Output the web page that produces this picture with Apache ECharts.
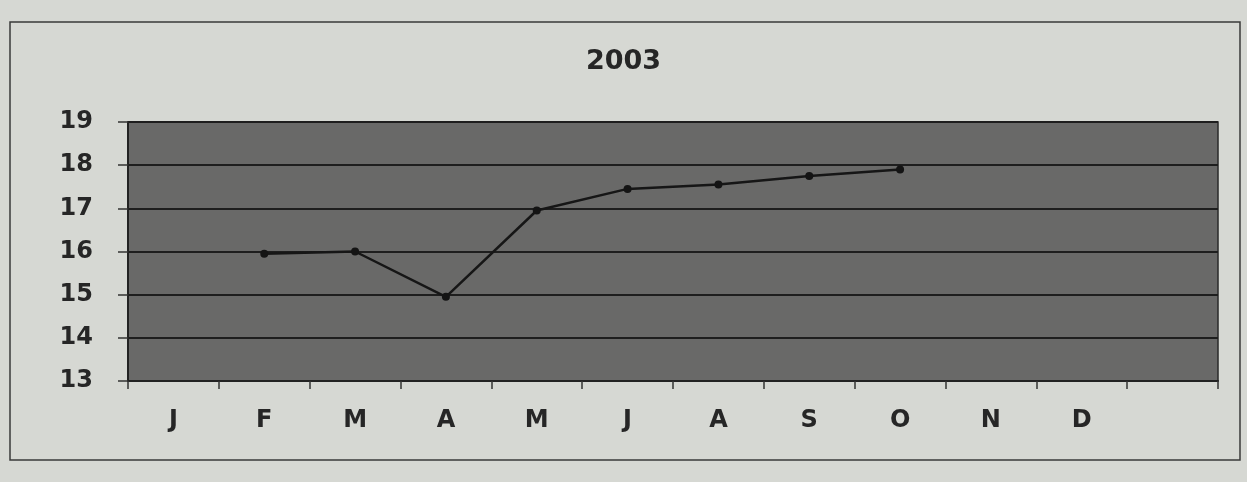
<!DOCTYPE html>
<html>
<head>
<meta charset="utf-8">
<script src="https://cdn.jsdelivr.net/npm/echarts@6/dist/echarts.min.js"></script>
<style>
html,body{margin:0;padding:0;background:#d6d8d3;}
#c{width:1247px;height:482px;}
</style>
</head>
<body>
<div id="c"></div>
<script>
const titleText = '2003';
const months = ['J','F','M','A','M','J','A','S','O','N','D',''];
const values = [null, 15.95, 16.0, 14.95, 16.95, 17.45, 17.55, 17.75, 17.9, null, null, null];
const yTicks = { min: 13, max: 19, interval: 1 };

const FONT = '"DejaVu Sans", Verdana, sans-serif';
const chart = echarts.init(document.getElementById('c'), null, {renderer:'canvas'});
chart.setOption({
  backgroundColor: '#d6d8d3',
  animation: false,
  title: {
    text: titleText, left: 'center', top: 43,
    textStyle: { fontFamily: FONT, fontWeight: 'bold', fontSize: 27, color: '#262626' }
  },
  graphic: [{
    type: 'rect', shape: { x: 10, y: 22, width: 1230, height: 438 },
    style: { fill: 'none', stroke: '#3a3a3a', lineWidth: 1.5 }, z: -1
  }],
  grid: {
    left: 128, right: 29, top: 122, height: 259,
    show: true, backgroundColor: '#696968', borderColor: '#2a2a2a', borderWidth: 1.5
  },
  xAxis: {
    type: 'category', data: months, boundaryGap: true,
    axisLine: { show: true, lineStyle: { color: '#222', width: 2 } },
    axisTick: { show: true, interval: 0, length: 8, lineStyle: { color: '#333', width: 1.5 } },
    axisLabel: { interval: 0, margin: 28, color: '#262626', fontSize: 24, fontWeight: 'bold', fontFamily: FONT },
    splitLine: { show: false }
  },
  yAxis: {
    type: 'value', min: yTicks.min, max: yTicks.max, interval: yTicks.interval,
    axisLine: { show: true, lineStyle: { color: '#222', width: 2 } },
    axisTick: { show: true, length: 10, lineStyle: { color: '#333', width: 1.5 } },
    axisLabel: { margin: 35, color: '#262626', fontSize: 24, fontWeight: 'bold', fontFamily: FONT },
    splitLine: { show: true, lineStyle: { color: '#1e1e1e', width: 2 } }
  },
  series: [{
    type: 'line', data: values, connectNulls: false,
    symbol: 'circle', symbolSize: 8,
    itemStyle: { color: '#141414' },
    lineStyle: { color: '#161616', width: 2.5 }
  }]
});
</script>
</body>
</html>
